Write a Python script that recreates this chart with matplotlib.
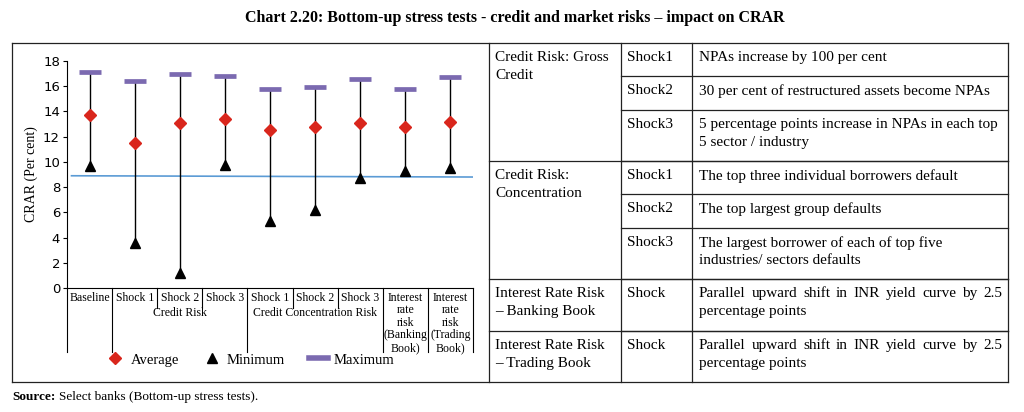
import matplotlib.pyplot as plt
from matplotlib.lines import Line2D

W, H = 1024, 412

categories = ['Baseline', 'Shock 1', 'Shock 2', 'Shock 3', 'Shock 1', 'Shock 2', 'Shock 3',
              'Interest\nrate\nrisk\n(Banking\nBook)', 'Interest\nrate\nrisk\n(Trading\nBook)']
groups = [('Credit Risk', 1, 3), ('Credit Concentration Risk', 4, 6)]
maximum = [17.1, 16.4, 16.95, 16.8, 15.8, 15.95, 16.55, 15.8, 16.7]
average = [13.7, 11.5, 13.05, 13.4, 12.5, 12.8, 13.05, 12.8, 13.2]
minimum = [9.7, 3.6, 1.2, 9.75, 5.3, 6.2, 8.75, 9.25, 9.5]
threshold = [8.9, 8.8]

table_groups = ['Credit Risk: Gross\nCredit', 'Credit Risk:\nConcentration',
                'Interest Rate Risk\n– Banking Book', 'Interest Rate Risk\n– Trading Book']
table_shocks = ['Shock1', 'Shock2', 'Shock3', 'Shock1', 'Shock2', 'Shock3', 'Shock', 'Shock']
table_desc = ['NPAs increase by 100 per cent',
              '30 per cent of restructured assets become NPAs',
              '5 percentage points increase in NPAs in each top\n5 sector / industry',
              'The top three individual borrowers default',
              'The top largest group defaults',
              'The largest borrower of each of top five\nindustries/ sectors defaults',
              'Parallel upward shift in INR yield curve by 2.5\npercentage points',
              'Parallel upward shift in INR yield curve by 2.5\npercentage points']
justified = [False, False, False, False, False, False, True, True]

SERIF = 'Liberation Serif'
TFS = 11


def fx(px):
    return px / W


def fy(py):
    return 1 - py / H


fig = plt.figure(figsize=(W / 100, H / 100), dpi=100)

fig.text(fx(515), fy(18), 'Chart 2.20: Bottom-up stress tests - credit and market risks – impact on CRAR',
         ha='center', va='center', fontsize=11.5, fontweight='bold', family=SERIF)

# chart
ax = fig.add_axes([fx(67), fy(288), fx(473) - fx(67), fy(61) - fy(288)])
x = list(range(len(categories)))
ax.vlines(x, minimum, maximum, color='black', lw=1, zorder=1)
ax.plot([-0.4, 8.5], threshold, color='#5b9bd5', lw=1.2, zorder=0)
ax.plot(x, maximum, ls='none', marker='_', ms=16, mew=3.4, color='#7b6ab0', zorder=3)
ax.plot(x, average, ls='none', marker='D', ms=6, color='#d9261c', zorder=3)
ax.plot(x, minimum, ls='none', marker='^', ms=7.5, color='black', zorder=3)

ax.set_xlim(-0.5, 8.5)
ax.set_ylim(0, 18)
ax.set_yticks(range(0, 19, 2))
ax.set_xticks([])
for s in ['top', 'right']:
    ax.spines[s].set_visible(False)
ax.spines['left'].set_linewidth(0.8)
ax.spines['bottom'].set_linewidth(0.8)
ax.tick_params(axis='y', labelsize=9.5, length=3, width=0.8, pad=2)
ax.set_ylabel('CRAR (Per cent)', family=SERIF, fontsize=10, labelpad=4)

tr = ax.get_xaxis_transform()
px_per_unit = (fy(61) - fy(288)) * H
long_y = -(352 - 288) / px_per_unit
short_y = -(308 - 288) / px_per_unit
for b in [-0.5, 0.5, 3.5, 6.5, 7.5, 8.5]:
    ax.plot([b, b], [0, long_y], transform=tr, color='black', lw=0.8, clip_on=False)
for b in [1.5, 2.5, 4.5, 5.5]:
    ax.plot([b, b], [0, short_y], transform=tr, color='black', lw=0.8, clip_on=False)
for xi, lab in zip(x, categories):
    ax.text(xi, -4 / px_per_unit, lab, transform=tr, ha='center', va='top',
            fontsize=8.5, family=SERIF, linespacing=1.05)
for name, a, b in groups:
    ax.text((a + b) / 2, -19 / px_per_unit, name, transform=tr, ha='center', va='top',
            fontsize=8.5, family=SERIF)

handles = [Line2D([], [], ls='none', marker='D', ms=6, color='#d9261c'),
           Line2D([], [], ls='none', marker='^', ms=7.5, color='black'),
           Line2D([], [], color='#7b6ab0', lw=4)]
fig.legend(handles, ['Average', 'Minimum', 'Maximum'], loc='center', ncol=3,
           bbox_to_anchor=(fx(250), fy(360)), frameon=False, handlelength=1.3,
           handletextpad=0.4, columnspacing=1.6, prop={'family': SERIF, 'size': 10.5})


# frame and table
def hline(x0, x1, y):
    fig.add_artist(Line2D([fx(x0), fx(x1)], [fy(y), fy(y)], color='#222222', lw=0.9))


def vline(xp, y0, y1):
    fig.add_artist(Line2D([fx(xp), fx(xp)], [fy(y0), fy(y1)], color='#222222', lw=0.9))


left, c1, c2, c3, right = 12, 489, 621, 692, 1008
row_y = [43, 76, 110, 161, 194, 228, 279, 331, 382]
group_y = [43, 161, 279, 331, 382]
line_h = 18
pad_top = 8

hline(left, right, 43)
hline(left, right, 382)
vline(left, 43, 382)
vline(right, 43, 382)
vline(c1, 43, 382)
vline(c2, 43, 382)
vline(c3, 43, 382)
for yy in row_y[1:-1]:
    hline(c2, right, yy)
for yy in group_y[1:-1]:
    hline(c1, right, yy)

for g, yy in zip(table_groups, group_y[:-1]):
    for k, ln in enumerate(g.split('\n')):
        fig.text(fx(c1 + 6), fy(yy + pad_top + k * line_h), ln, ha='left', va='top',
                 fontsize=TFS, family=SERIF)
for s, yy in zip(table_shocks, row_y[:-1]):
    fig.text(fx(c2 + 6), fy(yy + pad_top), s, ha='left', va='top', fontsize=TFS, family=SERIF)

renderer = fig.canvas.get_renderer()
x0, x1 = c3 + 7, right - 6
for d, yy, just in zip(table_desc, row_y[:-1], justified):
    lines = d.split('\n')
    for k, ln in enumerate(lines):
        ty = fy(yy + pad_top + k * line_h)
        if just and k < len(lines) - 1:
            words = ln.split(' ')
            ts = [fig.text(0, ty, w, ha='left', va='top', fontsize=TFS, family=SERIF)
                  for w in words]
            widths = [t.get_window_extent(renderer).width for t in ts]
            gap = (x1 - x0 - sum(widths)) / (len(words) - 1)
            pos = x0
            for t, wd in zip(ts, widths):
                t.set_x(fx(pos))
                pos += wd + gap
        else:
            fig.text(fx(x0), ty, ln, ha='left', va='top', fontsize=TFS, family=SERIF)

fig.text(fx(12), fy(397), 'Source:', ha='left', va='center', fontsize=9.5,
         family=SERIF, fontweight='bold')
fig.text(fx(59), fy(397), 'Select banks (Bottom-up stress tests).', ha='left', va='center',
         fontsize=9.5, family=SERIF)

fig.savefig('out.png', dpi=100)
